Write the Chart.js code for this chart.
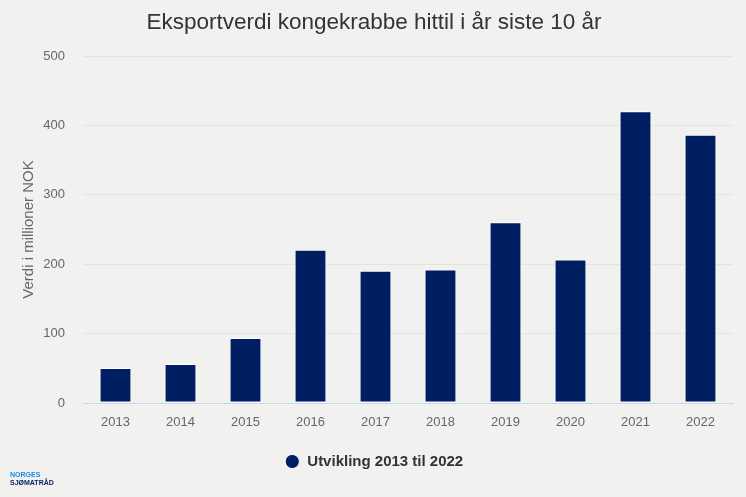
<!DOCTYPE html>
<html>
<head>
<meta charset="utf-8">
<script src="https://cdn.jsdelivr.net/npm/chart.js@4"></script>
<style>
  html, body { margin: 0; padding: 0; background: #f1f2f0; }
  #wrap { position: relative; width: 746px; height: 497px; }
  #logo {
    position: absolute; left: 10px; top: 471px;
    font-family: "Liberation Sans", Arial, sans-serif;
    font-weight: bold; font-size: 7px; line-height: 8px;
  }
  #logo .a { color: #1b8be0; }
  #logo .b { color: #001e62; }
</style>
</head>
<body>
<div id="wrap">
  <canvas id="chart" width="746" height="497"></canvas>
  <div id="logo"><div class="a">NORGES</div><div class="b">SJØMATRÅD</div></div>
</div>
<script>
const years = ["2013", "2014", "2015", "2016", "2017", "2018", "2019", "2020", "2021", "2022"];
const values = [50.5, 56.3, 93.8, 220.7, 190.4, 192.3, 260.6, 206.8, 420.3, 386.6];
const seriesName = "Utvikling 2013 til 2022";

const font = "'Liberation Sans', Arial, sans-serif";

const ctx = document.getElementById("chart").getContext("2d");
new Chart(ctx, {
  type: "bar",
  data: {
    labels: years,
    datasets: [{
      label: seriesName,
      data: values,
      backgroundColor: "#001e62",
      borderColor: "#ffffff",
      borderWidth: 1,
      borderSkipped: false,
      categoryPercentage: 1,
      barPercentage: 0.49
    }]
  },
  options: {
    responsive: false,
    animation: false,
    layout: { padding: { left: 15, right: 13, top: 0, bottom: 18 } },
    plugins: {
      tooltip: { enabled: false },
      title: {
        display: true,
        text: "Eksportverdi kongekrabbe hittil i år siste 10 år",
        color: "#333333",
        font: { family: font, size: 22.5, weight: "normal" },
        padding: { top: 9, bottom: 20 }
      },
      legend: {
        position: "bottom",
        labels: {
          usePointStyle: true,
          pointStyle: "circle",
          boxHeight: 10,
          color: "#333333",
          font: { family: font, size: 15, weight: "bold" },
          padding: 10
        }
      }
    },
    scales: {
      x: {
        grid: { display: false, drawTicks: false },
        border: { display: true, color: "#ccd6eb" },
        ticks: { color: "#666666", font: { family: font, size: 13 }, padding: 12 },
        afterFit: (scale) => { scale.height = 41; }
      },
      y: {
        min: 0,
        max: 500,
        grid: { color: "#e3e3e3", drawTicks: false },
        border: { display: false },
        ticks: { stepSize: 100, color: "#666666", font: { family: font, size: 13 }, padding: 18 },
        title: {
          display: true,
          text: "Verdi i millioner NOK",
          color: "#666666",
          font: { family: font, size: 15 },
          padding: { top: 5, bottom: 0 }
        },
        afterFit: (scale) => { scale.width = 68; }
      }
    }
  }
});
</script>
</body>
</html>
